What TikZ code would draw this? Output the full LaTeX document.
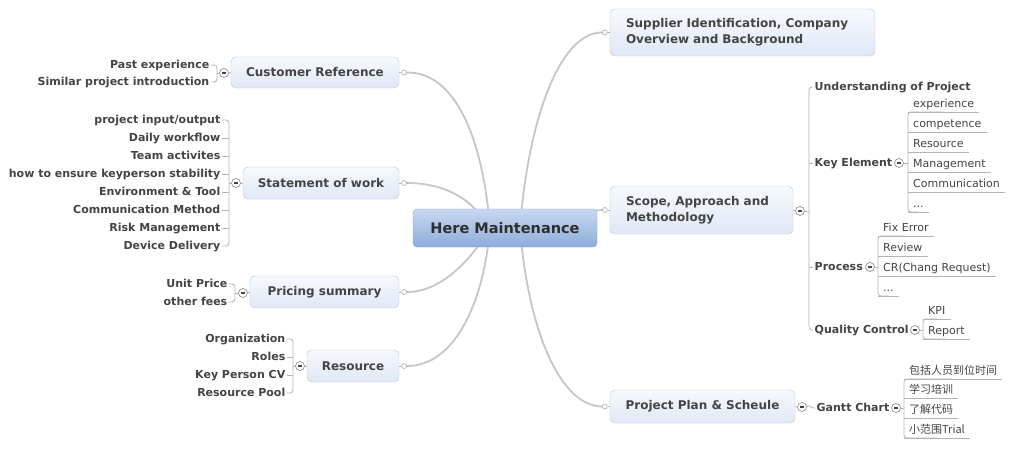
\documentclass[tikz,border=0pt]{standalone}
\usepackage{fontspec}
\setmainfont{DejaVu Sans}
\newfontfamily\cjk{Noto Sans CJK SC}
\definecolor{txt}{HTML}{444444}
\definecolor{txtd}{HTML}{2E2E2E}
\definecolor{conn}{HTML}{C6C6C6}
\definecolor{thin}{HTML}{B4B4B4}
\definecolor{tborder}{HTML}{BCC6D4}
\definecolor{ttop}{HTML}{F6F9FD}
\definecolor{tbot}{HTML}{E0E8F6}
\definecolor{cborder}{HTML}{8FA8CC}
\definecolor{ctop}{HTML}{C9D9F1}
\definecolor{cbot}{HTML}{8CACD9}
\pgfdeclarelayer{bg}
\pgfsetlayers{bg,main}
\begin{document}
\begin{tikzpicture}[x=1pt,y=-1pt,
  central/.style={draw=cborder, rounded corners=4pt, top color=ctop, bottom color=cbot,
    minimum width=184pt, minimum height=38pt, inner sep=0pt,
    font=\bfseries\fontsize{14.5}{17}\selectfont, text=txtd},
  topic/.style={draw=tborder, rounded corners=5pt, top color=ttop, bottom color=tbot,
    inner xsep=0pt, inner ysep=0pt, font=\bfseries\fontsize{12}{16}\selectfont, text=txt},
  sub/.style={font=\bfseries\fontsize{11}{12}\selectfont, text=txt, inner xsep=1.5pt, inner ysep=1pt,
    text height=8.5pt, text depth=1pt},
  leaf/.style={font=\fontsize{11}{12}\selectfont, text=txt, inner xsep=5pt, inner ysep=1.5pt,
    text height=8pt, text depth=2.5pt, anchor=south west},
  cjkleaf/.style={leaf, font=\cjk\fontsize{11}{12}\selectfont},
  attach/.style={circle, draw=thin, fill=white, minimum size=5pt, inner sep=0pt, line width=0.7pt},
  collapse/.style={circle, draw=gray!85, fill=white, minimum size=9pt, inner sep=0pt, line width=0.7pt,
    path picture={\draw[line width=1.1pt, txt] ([xshift=-2pt]path picture bounding box.center) -- ([xshift=2pt]path picture bounding box.center);}},
  mainconn/.style={draw=conn, line width=1.8pt},
  thinconn/.style={draw=thin, line width=0.8pt},
]
\useasboundingbox (0,0) rectangle (1018,448);

% central
\node[central] (cen) at (505,228) {Here Maintenance};
\coordinate (cr) at (520,228);
\coordinate (cl) at (490,228);

% right topics
\node[topic, minimum width=265pt, minimum height=47pt, text width=233pt, inner xsep=16pt, align=left] (sup) at (742.5,32.5) {Supplier Identification, Company\\Overview and Background};
\node[topic, minimum width=183pt, minimum height=48pt, text width=151pt, inner xsep=16pt, align=left] (sco) at (701.5,210) {Scope, Approach and\\Methodology};
\node[topic, minimum width=185pt, minimum height=33pt] (pp) at (702.5,406.5) {Project Plan \& Scheule};

% left topics
\node[topic, minimum width=168pt, minimum height=31pt] (cus) at (315,72.5) {Customer Reference};
\node[topic, minimum width=156pt, minimum height=32pt] (sow) at (321,183) {Statement of work};
\node[topic, minimum width=149pt, minimum height=32pt] (pri) at (324.5,292) {Pricing summary};
\node[topic, minimum width=92pt, minimum height=32pt] (res) at (353,366) {Resource};

% attach circles
\node[attach] (sup-a) at ([xshift=-5pt]sup.west) {};
\node[attach] (sco-a) at ([xshift=-5pt]sco.west) {};
\node[attach] (pp-a) at ([xshift=-5pt]pp.west) {};
\node[attach] (cus-a) at ([xshift=5pt]cus.east) {};
\node[attach] (sow-a) at ([xshift=5pt]sow.east) {};
\node[attach] (pri-a) at ([xshift=5pt]pri.east) {};
\node[attach] (res-a) at ([xshift=5pt]res.east) {};

\begin{pgfonlayer}{bg}
\fill[white] (0,0) rectangle (1018,448);
\draw[mainconn] (sup-a.west) .. controls (560,32) and (528,120) .. (cr);
\draw[mainconn] (sco-a.west) .. controls (585,211) and (560,222) .. (cr);
\draw[mainconn] (pp-a.west) .. controls (560,406) and (528,330) .. (cr);
\draw[mainconn] (cus-a.east) .. controls (452,72) and (482,130) .. (cl);
\draw[mainconn] (sow-a.east) .. controls (440,183) and (470,195) .. (cl);
\draw[mainconn] (pri-a.east) .. controls (440,292) and (470,262) .. (cl);
\draw[mainconn] (res-a.east) .. controls (456,366) and (484,300) .. (cl);
\end{pgfonlayer}
\draw[thinconn] (sup-a.east) -- (sup.west);
\draw[thinconn] (sco-a.east) -- (sco.west);
\draw[thinconn] (pp-a.east) -- (pp.west);
\draw[thinconn] (cus-a.west) -- (cus.east);
\draw[thinconn] (sow-a.west) -- (sow.east);
\draw[thinconn] (pri-a.west) -- (pri.east);
\draw[thinconn] (res-a.west) -- (res.east);

% ---- Customer Reference children
\node[sub, anchor=east] (cr1) at (211,65) {Past experience};
\node[sub, anchor=east] (cr2) at (211,82) {Similar project introduction};
\node[collapse] (cus-c) at (224,73) {};
\coordinate (cus-b) at (217,73);
\draw[thinconn, rounded corners=3pt] (cr1.east) -| (cus-b) |- (cr2.east);
\draw[thinconn] (cus-b) -- (cus-c.west);
\draw[thinconn] (cus-c.east) -- (cus.west);

% ---- Statement of work children
\node[sub, anchor=east] (sw1) at (222,120) {project input/output};
\node[sub, anchor=east] (sw2) at (222,138) {Daily workflow};
\node[sub, anchor=east] (sw3) at (222,156) {Team activites};
\node[sub, anchor=east] (sw4) at (222,174) {how to ensure keyperson stability};
\node[sub, anchor=east] (sw5) at (222,192) {Environment \& Tool};
\node[sub, anchor=east] (sw6) at (222,210) {Communication Method};
\node[sub, anchor=east] (sw7) at (222,228) {Risk Management};
\node[sub, anchor=east] (sw8) at (222,246) {Device Delivery};
\node[collapse] (sow-c) at (236,183) {};
\coordinate (sow-b) at (229,183);
\draw[thinconn, rounded corners=3pt] (sw1.east) -| (sow-b) |- (sw8.east);
\foreach \n in {sw2,sw3,sw4,sw5,sw6,sw7} \draw[thinconn] (\n.east) -- (\n.east -| sow-b);
\draw[thinconn] (sow-b) -- (sow-c.west);
\draw[thinconn] (sow-c.east) -- (sow.west);

% ---- Pricing summary children
\node[sub, anchor=east] (pr1) at (229,284) {Unit Price};
\node[sub, anchor=east] (pr2) at (229,302) {other fees};
\node[collapse] (pri-c) at (243,293) {};
\coordinate (pri-b) at (235,293);
\draw[thinconn, rounded corners=3pt] (pr1.east) -| (pri-b) |- (pr2.east);
\draw[thinconn] (pri-b) -- (pri-c.west);
\draw[thinconn] (pri-c.east) -- (pri.west);

% ---- Resource children
\node[sub, anchor=east] (rs1) at (287,339) {Organization};
\node[sub, anchor=east] (rs2) at (287,357) {Roles};
\node[sub, anchor=east] (rs3) at (287,375) {Key Person CV};
\node[sub, anchor=east] (rs4) at (287,393) {Resource Pool};
\node[collapse] (res-c) at (300,366) {};
\coordinate (res-b) at (293,366);
\draw[thinconn, rounded corners=3pt] (rs1.east) -| (res-b) |- (rs4.east);
\foreach \n in {rs2,rs3} \draw[thinconn] (\n.east) -- (\n.east -| res-b);
\draw[thinconn] (res-b) -- (res-c.west);
\draw[thinconn] (res-c.east) -- (res.west);

% ---- Scope children
\node[collapse] (sco-c) at (800,211) {};
\coordinate (sco-b) at (809,211);
\draw[thinconn] (sco.east) -- (sco-c.west);
\draw[thinconn] (sco-c.east) -- (sco-b);
\node[sub, anchor=west] (und) at (813,87) {Understanding of Project};
\node[sub, anchor=west] (ke) at (813,163) {Key Element};
\node[sub, anchor=west] (prc) at (813,267) {Process};
\node[sub, anchor=west] (qc) at (813,330) {Quality Control};
\draw[thinconn, rounded corners=3pt] (und.west) -| (sco-b) |- (qc.west);
\draw[thinconn] (ke.west) -- (ke.west -| sco-b);
\draw[thinconn] (prc.west) -- (prc.west -| sco-b);

% Key Element leaves
\node[collapse] (ke-c) at (899,163) {};
\draw[thinconn] (ke.east) -- (ke-c.west);
\node[leaf] (k1) at (908,112) {experience};
\node[leaf] (k2) at (908,132) {competence};
\node[leaf] (k3) at (908,152) {Resource};
\node[leaf] (k4) at (908,172) {Management};
\node[leaf] (k5) at (908,192) {Communication};
\node[leaf] (k6) at (908,212) {...};
\foreach \n in {k1,k2,k3,k4,k5,k6} \draw[thinconn] (\n.south west) -- (\n.south east);
\draw[thinconn, rounded corners=3pt] (k1.south) -- (k1.south west) -- (k6.south west) -- (k6.south);
\draw[thinconn] (ke-c.east) -- (ke-c.east -| k1.south west);

% Process leaves
\node[collapse] (prc-c) at (870,267) {};
\draw[thinconn] (prc.east) -- (prc-c.west);
\node[leaf] (p1) at (878,236) {Fix Error};
\node[leaf] (p2) at (878,256) {Review};
\node[leaf] (p3) at (878,276) {CR(Chang Request)};
\node[leaf] (p4) at (878,296) {...};
\foreach \n in {p1,p2,p3,p4} \draw[thinconn] (\n.south west) -- (\n.south east);
\draw[thinconn, rounded corners=3pt] (p1.south) -- (p1.south west) -- (p4.south west) -- (p4.south);
\draw[thinconn] (prc-c.east) -- (prc-c.east -| p1.south west);

% Quality Control leaves
\node[collapse] (qc-c) at (915,330) {};
\draw[thinconn] (qc.east) -- (qc-c.west);
\node[leaf] (q1) at (923,319) {KPI};
\node[leaf] (q2) at (923,339) {Report};
\foreach \n in {q1,q2} \draw[thinconn] (\n.south west) -- (\n.south east);
\draw[thinconn, rounded corners=3pt] (q1.south) -- (q1.south west) -- (q2.south west) -- (q2.south);
\draw[thinconn] (qc-c.east) -- (qc-c.east -| q1.south west);

% ---- Project plan children
\node[collapse] (pp-c) at (802,407) {};
\draw[thinconn] (pp.east) -- (pp-c.west);
\node[sub, anchor=west] (gan) at (815,408) {Gantt Chart};
\draw[thinconn] (pp-c.east) .. controls (809,403) and (810,409) .. (gan.west);
\node[collapse] (gan-c) at (896,408) {};
\draw[thinconn] (gan.east) -- (gan-c.west);
\node[cjkleaf] (g1) at (904,379) {包括人员到位时间};
\node[cjkleaf] (g2) at (904,398) {学习培训};
\node[cjkleaf] (g3) at (904,418) {了解代码};
\node[cjkleaf] (g4) at (904,438) {小范围Trial};
\foreach \n in {g1,g2,g3,g4} \draw[thinconn] (\n.south west) -- (\n.south east);
\draw[thinconn, rounded corners=3pt] (g1.south) -- (g1.south west) -- (g4.south west) -- (g4.south);
\draw[thinconn] (gan-c.east) -- (gan-c.east -| g1.south west);
\end{tikzpicture}
\end{document}
